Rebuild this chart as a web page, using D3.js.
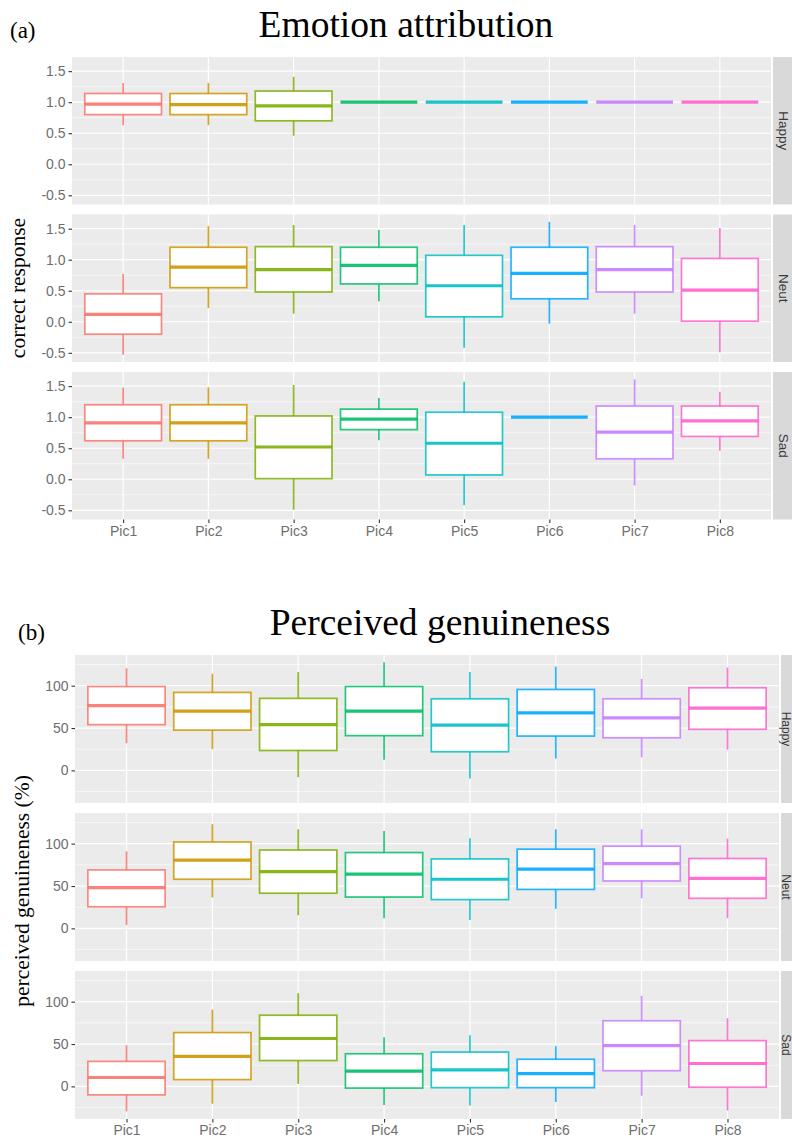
<!DOCTYPE html>
<html>
<head>
<meta charset="utf-8">
<script src="https://cdn.jsdelivr.net/npm/d3@7"></script>
<style>
  html, body { margin: 0; padding: 0; background: #ffffff; }
  svg { display: block; }
</style>
</head>
<body>
<svg id="chart" width="792" height="1145"></svg>
<script>
// ---------------- DATA ----------------
const pics = ["Pic1", "Pic2", "Pic3", "Pic4", "Pic5", "Pic6", "Pic7", "Pic8"];
const facets = ["Happy", "Neut", "Sad"];
const picColors = ["#F8766D", "#CD9600", "#7CAE00", "#00BE67", "#00BFC4", "#00A9FF", "#C77CFF", "#FF61CC"];

// each entry: [lower whisker, Q1, median, Q3, upper whisker]
// (a) Emotion attribution — correct response
const emoHappy = [
  [0.63, 0.80, 0.97, 1.14, 1.31],
  [0.63, 0.80, 0.96, 1.14, 1.31],
  [0.46, 0.70, 0.94, 1.18, 1.41],
  [1.00, 1.00, 1.00, 1.00, 1.00],
  [1.00, 1.00, 1.00, 1.00, 1.00],
  [1.00, 1.00, 1.00, 1.00, 1.00],
  [1.00, 1.00, 1.00, 1.00, 1.00],
  [1.00, 1.00, 1.00, 1.00, 1.00]
];
const emoNeut = [
  [-0.53, -0.20, 0.12, 0.45, 0.77],
  [0.22, 0.55, 0.88, 1.20, 1.54],
  [0.13, 0.48, 0.84, 1.21, 1.56],
  [0.33, 0.61, 0.91, 1.20, 1.48],
  [-0.42, 0.08, 0.58, 1.07, 1.56],
  [-0.03, 0.37, 0.78, 1.20, 1.61],
  [0.13, 0.48, 0.84, 1.21, 1.56],
  [-0.49, 0.01, 0.51, 1.02, 1.51]
];
const emoSad = [
  [0.33, 0.62, 0.91, 1.20, 1.48],
  [0.33, 0.62, 0.91, 1.20, 1.48],
  [-0.49, 0.01, 0.52, 1.02, 1.52],
  [0.63, 0.80, 0.97, 1.13, 1.31],
  [-0.42, 0.07, 0.58, 1.08, 1.57],
  [1.00, 1.00, 1.00, 1.00, 1.00],
  [-0.10, 0.33, 0.76, 1.18, 1.61],
  [0.46, 0.69, 0.94, 1.18, 1.41]
];

// (b) Perceived genuineness (%)
const genHappy = [
  [32, 54, 76.5, 99, 120.5],
  [25, 47.5, 70, 92, 114],
  [-8, 23.5, 54, 85, 116],
  [12.5, 41, 70, 99, 127.5],
  [-9.5, 22, 53.5, 84.5, 116],
  [14, 40.5, 68, 95.5, 122.5],
  [15.5, 38.5, 62, 84.5, 108],
  [24.5, 48.5, 73.5, 97.5, 121.5]
];
const genNeut = [
  [4, 25.5, 48, 69, 91],
  [36.5, 58, 80.5, 102, 123],
  [15.5, 41.5, 67, 92.5, 117],
  [12, 37, 64, 89.5, 115],
  [10, 34, 58, 82, 106.5],
  [23, 46, 70, 93.5, 117],
  [35.5, 56, 76.5, 97, 117],
  [12, 35.5, 59, 82.5, 106]
];
const genSad = [
  [-29.5, -10, 10.5, 29.5, 48.5],
  [-20.5, 8, 35.5, 63.5, 90.5],
  [3, 30.5, 56.5, 84, 110],
  [-22, -2, 18, 38.5, 58],
  [-22.5, -1.5, 19.5, 40.5, 60.5],
  [-18.5, -1.5, 15, 32, 47.5],
  [-11, 18.5, 48, 77.5, 107],
  [-28.5, -1, 27, 54, 80.5]
];

const emoTicks = [-0.5, 0.0, 0.5, 1.0, 1.5];
const emoMinor = [-0.25, 0.25, 0.75, 1.25];
const genTicks = [0, 50, 100];
const genMinor = [-25, 25, 75, 125];

// ---------------- DRAWING ----------------
const svg = d3.select("#chart");
const serif = "'Liberation Serif', 'Times New Roman', serif";
const sans = "'Liberation Sans', Arial, Helvetica, sans-serif";

function drawChart(cfg) {
  const g = svg.append("g");
  const x = d3.scalePoint().domain(pics).range([cfg.x0, cfg.x1]).padding(0.6);
  const boxW = x.step() * 0.9;

  cfg.data.forEach((rows, fi) => {
    const top = cfg.tops[fi];
    const y = d3.scaleLinear().domain(cfg.domain).range([top + cfg.h, top]);
    const pg = g.append("g");

    // panel background
    pg.append("rect")
      .attr("x", cfg.x0).attr("y", top)
      .attr("width", cfg.x1 - cfg.x0).attr("height", cfg.h)
      .attr("fill", "#EBEBEB");

    // minor grid
    pg.selectAll(".minor").data(cfg.minor).enter().append("line")
      .attr("x1", cfg.x0).attr("x2", cfg.x1)
      .attr("y1", d => y(d)).attr("y2", d => y(d))
      .attr("stroke", "#ffffff").attr("stroke-width", 0.6);
    // major grid
    pg.selectAll(".major").data(cfg.ticks).enter().append("line")
      .attr("x1", cfg.x0).attr("x2", cfg.x1)
      .attr("y1", d => y(d)).attr("y2", d => y(d))
      .attr("stroke", "#ffffff").attr("stroke-width", 1.2);
    pg.selectAll(".vmajor").data(pics).enter().append("line")
      .attr("x1", d => x(d)).attr("x2", d => x(d))
      .attr("y1", top).attr("y2", top + cfg.h)
      .attr("stroke", "#ffffff").attr("stroke-width", 1.2);

    // boxplots
    const bg = pg.selectAll(".box").data(rows).enter().append("g");
    bg.each(function (d, i) {
      const sel = d3.select(this);
      const cx = x(pics[i]);
      const col = picColors[i];
      const [lo, q1, med, q3, hi] = d;
      sel.append("line").attr("x1", cx).attr("x2", cx)
        .attr("y1", y(hi)).attr("y2", y(q3))
        .attr("stroke", col).attr("stroke-width", 1.7).attr("stroke-opacity", 0.85);
      sel.append("line").attr("x1", cx).attr("x2", cx)
        .attr("y1", y(q1)).attr("y2", y(lo))
        .attr("stroke", col).attr("stroke-width", 1.7).attr("stroke-opacity", 0.85);
      sel.append("rect")
        .attr("x", cx - boxW / 2).attr("y", y(q3))
        .attr("width", boxW).attr("height", Math.max(0, y(q1) - y(q3)))
        .attr("fill", "#ffffff").attr("stroke", col).attr("stroke-width", 1.7)
        .attr("stroke-opacity", 0.85);
      sel.append("line")
        .attr("x1", cx - boxW / 2).attr("x2", cx + boxW / 2)
        .attr("y1", y(med)).attr("y2", y(med))
        .attr("stroke", col).attr("stroke-width", 3.2).attr("stroke-opacity", 0.9);
    });

    // y axis
    const ax = pg.append("g").attr("transform", `translate(${cfg.x0},0)`)
      .call(d3.axisLeft(y).tickValues(cfg.ticks).tickSize(3.5).tickPadding(3)
        .tickFormat(cfg.fmt));
    ax.select(".domain").remove();
    ax.selectAll(".tick line").attr("stroke", "#333333").attr("stroke-width", 1.1);
    ax.selectAll(".tick text").attr("fill", "#6e6e6e")
      .style("font-family", sans).style("font-size", "14px");

    // strip
    pg.append("rect")
      .attr("x", cfg.stripX).attr("y", top)
      .attr("width", 24).attr("height", cfg.h)
      .attr("fill", "#D9D9D9");
    pg.append("text")
      .attr("transform", `translate(${cfg.stripTextX},${top + cfg.h / 2}) rotate(90)`)
      .attr("text-anchor", "middle").attr("dominant-baseline", "central")
      .attr("fill", "#3a3a3a")
      .style("font-family", sans).style("font-size", cfg.stripFont)
      .text(facets[fi]);

    // x axis at the bottom panel
    if (fi === cfg.data.length - 1) {
      const xa = pg.append("g").attr("transform", `translate(0,${top + cfg.h})`)
        .call(d3.axisBottom(x).tickSize(3.5).tickPadding(3));
      xa.select(".domain").remove();
      xa.selectAll(".tick line").attr("stroke", "#333333").attr("stroke-width", 1.1);
      xa.selectAll(".tick text").attr("fill", "#6e6e6e")
        .style("font-family", sans).style("font-size", "14px");
    }
  });

  // title
  g.append("text").attr("x", cfg.titleX).attr("y", cfg.titleY)
    .attr("text-anchor", "middle").attr("fill", "#000")
    .style("font-family", serif).style("font-size", "37.5px")
    .text(cfg.title);
  g.append("text").attr("x", cfg.tagX).attr("y", cfg.tagY)
    .attr("fill", "#000")
    .style("font-family", serif).style("font-size", "23px")
    .text(cfg.tag);
  // y label
  g.append("text")
    .attr("transform", `translate(${cfg.ylabX},${cfg.ylabY}) rotate(-90)`)
    .attr("text-anchor", "middle").attr("fill", "#000")
    .style("font-family", serif).style("font-size", "21.5px")
    .text(cfg.ylab);
}

drawChart({
  x0: 72, x1: 771, tops: [57, 214.5, 372], h: 147.5,
  domain: [-0.648, 1.728],
  data: [emoHappy, emoNeut, emoSad],
  ticks: emoTicks, minor: emoMinor,
  fmt: d => d.toFixed(1),
  stripX: 773, stripTextX: 783.5, stripFont: "13.5px",
  title: "Emotion attribution", titleX: 406, titleY: 37,
  tag: "(a)", tagX: 10, tagY: 38,
  ylab: "correct response", ylabX: 25, ylabY: 288
});

drawChart({
  x0: 75, x1: 779, tops: [655, 813, 971], h: 148,
  domain: [-38.5, 136.2],
  data: [genHappy, genNeut, genSad],
  ticks: genTicks, minor: genMinor,
  fmt: d => String(d),
  stripX: 781, stripTextX: 786, stripFont: "12px",
  title: "Perceived genuineness", titleX: 440, titleY: 635,
  tag: "(b)", tagX: 18, tagY: 640,
  ylab: "perceived genuineness (%)", ylabX: 29, ylabY: 891
});
</script>
</body>
</html>
